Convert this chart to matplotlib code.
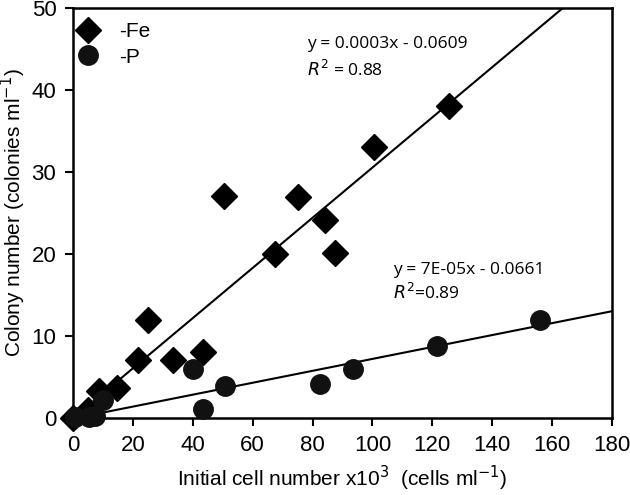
import numpy as np
import matplotlib
matplotlib.use('Agg')
import matplotlib.pyplot as plt
from matplotlib import font_manager

names = {f.name for f in font_manager.fontManager.ttflist}
tick_font = 'Liberation Sans Narrow' if 'Liberation Sans Narrow' in names else 'Liberation Sans'
plt.rcParams['font.family'] = [tick_font, 'DejaVu Sans']

# -Fe data (x in 10^3 cells/ml, y colonies/ml)
fe_x = [0, 5, 8.8, 14.6, 21.8, 25.2, 33.5, 43.3, 50.3, 67.4, 75.3, 84.2, 87.4, 100.6, 125.6]
fe_y = [0, 1.0, 3.3, 3.7, 7.1, 12.0, 7.1, 8.1, 27.1, 20.0, 27.0, 24.1, 20.1, 33.0, 38.0]

# -P data
p_x = [0.7, 5.5, 7.2, 10.1, 40.0, 43.3, 50.7, 82.5, 93.6, 121.4, 155.9]
p_y = [0.1, 0.1, 0.2, 2.2, 6.0, 1.1, 3.9, 4.1, 6.0, 8.8, 12.0]

# fitted lines (per 10^3 cells)
fe_slope, fe_int = 0.306, -0.0609
p_slope, p_int = 0.0727, -0.0661

fig = plt.figure(figsize=(6.3, 4.95), dpi=100)
ax = fig.add_axes([0.1159, 0.1556, 0.8555, 0.8283])

xx = np.array([0, 180])
ax.plot(xx, fe_slope * xx + fe_int, color='black', lw=1.5, zorder=2)
ax.plot(xx, p_slope * xx + p_int, color='black', lw=1.5, zorder=2)

ax.plot(fe_x, fe_y, 'D', color='black', ms=13, ls='none', label='-Fe', zorder=3, clip_on=False)
ax.plot(p_x, p_y, 'o', color='#111111', ms=14, ls='none', label='-P', zorder=3, clip_on=False)

ax.set_xlim(0, 180)
ax.set_ylim(0, 50)
ax.set_xticks(np.arange(0, 181, 20))
ax.set_yticks(np.arange(0, 51, 10))
ax.tick_params(direction='out', length=6, width=1.5, labelsize=16, pad=6)
for s in ax.spines.values():
    s.set_linewidth(1.8)

ax.set_xlabel('Initial cell number x10$^3$  (cells ml$^{-1}$)', fontsize=15, labelpad=6)
ax.set_ylabel('Colony number (colonies ml$^{-1}$)', fontsize=15)
ax.yaxis.set_label_coords(-0.083, 0.5)

eq_font = ['Open Sans', 'DejaVu Sans']
ax.text(78.3, 45.6, 'y = 0.0003x - 0.0609', fontsize=12.5, family=eq_font, va='center')
ax.text(78.3, 42.5, '$R^2$ = 0.88', fontsize=12.5, family=eq_font, va='center')
ax.text(107, 18.1, 'y = 7E-05x - 0.0661', fontsize=12.5, family=eq_font, va='center')
ax.text(107, 15.2, '$R^2$=0.89', fontsize=12.5, family=eq_font, va='center')

ax.legend(loc='upper left', bbox_to_anchor=(0.009, 0.965), frameon=False, fontsize=15,
          handlelength=1.0, handletextpad=1.0, borderpad=0.0, borderaxespad=0.0,
          labelspacing=0.3)

fig.savefig('out.png', dpi=100)
